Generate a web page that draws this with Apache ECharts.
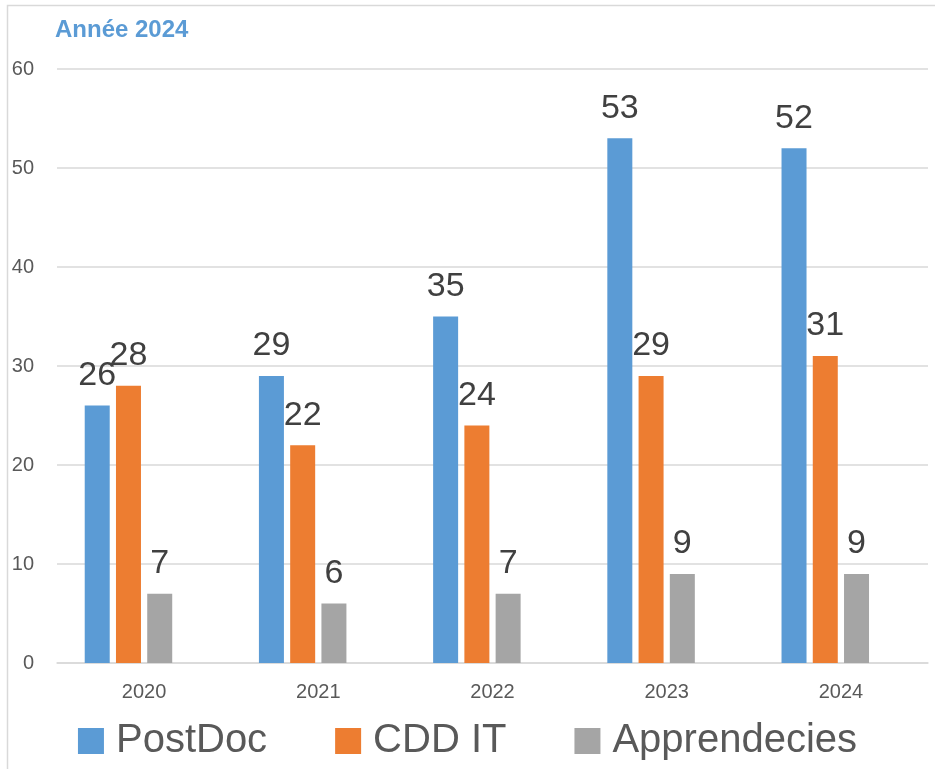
<!DOCTYPE html>
<html>
<head>
<meta charset="utf-8">
<script src="https://cdn.jsdelivr.net/npm/echarts@6/dist/echarts.min.js"></script>
<style>
  html, body { margin: 0; padding: 0; background: #fff; }
  #chart { width: 935px; height: 769px; }
</style>
</head>
<body>
<div id="chart"></div>
<script>
// données
const years = ['2020', '2021', '2022', '2023', '2024'];
const postDoc = [26, 29, 35, 53, 52];
const cddIT = [28, 22, 24, 29, 31];
const apprentis = [7, 6, 7, 9, 9];
const yTicks = [0, 10, 20, 30, 40, 50, 60];

const FONT = '"Liberation Sans", "DejaVu Sans", sans-serif';
const chart = echarts.init(document.getElementById('chart'));

const labelStyle = {
  show: true,
  position: 'top',
  distance: 13,
  fontSize: 34,
  fontFamily: FONT,
  color: '#404040'
};

function barSeries(name, data, color) {
  return {
    name: name,
    type: 'bar',
    data: data,
    barWidth: 25,
    barGap: '25%',
    itemStyle: { color: color },
    label: labelStyle
  };
}

chart.setOption({
  animation: false,
  textStyle: { fontFamily: FONT },
  graphic: [{
    type: 'rect',
    shape: { x: 7.5, y: 5.5, width: 1000, height: 1000 },
    style: { fill: 'none', stroke: '#d9d9d9', lineWidth: 1.5 },
    silent: true
  }],
  title: {
    text: 'Année 2024',
    left: 55,
    top: 18,
    padding: 0,
    textStyle: { color: '#5b9bd5', fontSize: 24, fontWeight: 'bold', fontFamily: FONT }
  },
  legend: {
    data: ['PostDoc', 'CDD IT', 'Apprendecies'],
    left: 'center',
    top: 716,
    itemWidth: 26,
    itemHeight: 26,
    itemGap: 68,
    icon: 'rect',
    textStyle: { fontSize: 40, color: '#595959', fontFamily: FONT, padding: [0, 0, 0, 7] }
  },
  grid: { left: 57, right: 7, top: 69, bottom: 106 },
  xAxis: {
    type: 'category',
    data: years,
    axisTick: { show: false },
    axisLine: { lineStyle: { color: '#d9d9d9', width: 1.5 } },
    axisLabel: { fontSize: 20, color: '#595959', margin: 19 }
  },
  yAxis: {
    type: 'value',
    min: yTicks[0],
    max: yTicks[yTicks.length - 1],
    interval: 10,
    axisLine: { show: false },
    axisTick: { show: false },
    splitLine: { lineStyle: { color: '#d9d9d9', width: 1.5 } },
    axisLabel: { fontSize: 20, color: '#595959', margin: 23 }
  },
  series: [
    barSeries('PostDoc', postDoc, '#5b9bd5'),
    barSeries('CDD IT', cddIT, '#ed7d31'),
    barSeries('Apprendecies', apprentis, '#a5a5a5'),
    // série vide : Excel réserve une 4e place dans chaque groupe
    { name: 'vide', type: 'bar', data: [], barWidth: 25, barGap: '25%' }
  ]
});
</script>
</body>
</html>
